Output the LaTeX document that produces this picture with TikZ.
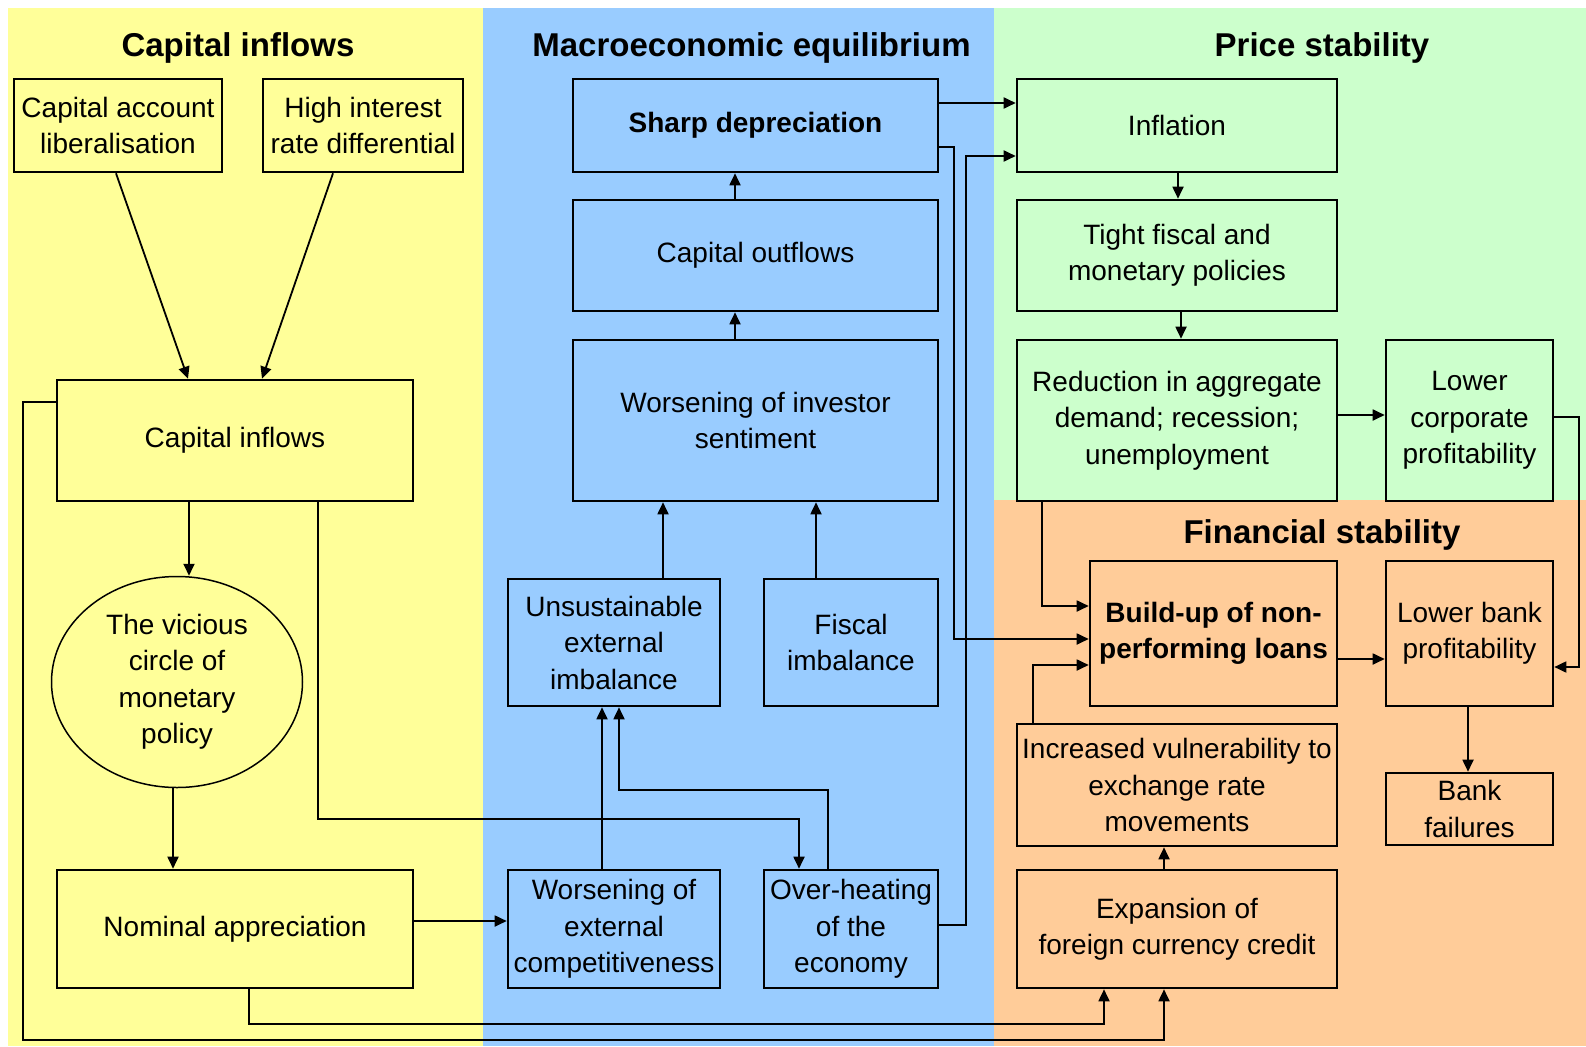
\documentclass[tikz,border=0pt]{standalone}
\usepackage{fontspec}
\setmainfont{Liberation Sans}
\usetikzlibrary{arrows.meta,shapes.geometric}
\definecolor{cyel}{HTML}{FFFF99}
\definecolor{cblu}{HTML}{99CCFF}
\definecolor{cgrn}{HTML}{CCFFCC}
\definecolor{corg}{HTML}{FFCC99}
\tikzset{
  box/.style={draw=black, line width=2.6pt, align=center, inner sep=1pt,
    font=\fontsize{28}{36.5}\selectfont},
  ttl/.style={font=\fontsize{33}{38}\selectfont\bfseries},
  arr/.style={line width=1.8pt, -{Triangle[length=12pt,width=11pt]}},
}
\begin{document}
\begin{tikzpicture}[x=1pt,y=-1pt]
\useasboundingbox (0,0) rectangle (1586,1046);
\fill[white] (0,0) rectangle (1586,1046);
\fill[cyel] (8,8) rectangle (483,1046);
\fill[cblu] (483,8) rectangle (994,1046);
\fill[cgrn] (994,8) rectangle (1586,500);
\fill[corg] (994,500) rectangle (1586,1046);

% titles
\node[ttl] (t1) at (238,47.5) {Capital inflows};
\node[ttl] (t2) at (751.5,47.5) {Macroeconomic equilibrium};
\node[ttl] (t3) at (1322,47.5) {Price stability};
\node[ttl] (t4) at (1322,535) {Financial stability};

% capital inflows column
\node[box, minimum width=208pt, minimum height=93pt] (cal) at (118,125.5) {Capital account\\liberalisation};
\node[box, minimum width=200pt, minimum height=93pt] (hir) at (363,125.5) {High interest\\rate differential};
\node[box, minimum width=356pt, minimum height=121pt] (cin) at (235,440.5) {Capital inflows};
\node[draw=black, ellipse, line width=1.5pt, align=center, inner sep=0pt,
  font=\fontsize{28}{36.5}\selectfont, minimum width=251pt, minimum height=211pt] (vic) at (177,682) {The vicious\\circle of\\monetary\\policy};
\node[box, minimum width=356pt, minimum height=118pt] (nom) at (235,929) {Nominal appreciation};

% macro column
\node[box, minimum width=365pt, minimum height=93pt] (sharp) at (755.5,125.5) {\bfseries Sharp depreciation};
\node[box, minimum width=365pt, minimum height=111pt] (cout) at (755.5,255.5) {Capital outflows};
\node[box, minimum width=365pt, minimum height=161pt] (inv) at (755.5,420.5) {Worsening of investor\\sentiment};
\node[box, minimum width=212pt, minimum height=127pt] (unsus) at (614,642.5) {Unsustainable\\external\\imbalance};
\node[box, minimum width=174pt, minimum height=127pt] (fisc) at (851,642.5) {Fiscal\\imbalance};
\node[box, minimum width=212pt, minimum height=118pt] (wec) at (614,929) {Worsening of\\external\\competitiveness};
\node[box, minimum width=174pt, minimum height=118pt] (ovh) at (851,929) {Over-heating\\of the\\economy};

% price stability
\node[box, minimum width=320pt, minimum height=93pt] (infl) at (1177,125.5) {Inflation};
\node[box, minimum width=320pt, minimum height=111pt] (tight) at (1177,255.5) {Tight fiscal and\\monetary policies};
\node[box, minimum width=320pt, minimum height=161pt] (red) at (1177,420.5) {Reduction in aggregate\\demand; recession;\\unemployment};
\node[box, minimum width=167pt, minimum height=161pt] (lcp) at (1469.5,420.5) {Lower\\corporate\\profitability};

% financial stability
\node[box, minimum width=247pt, minimum height=145pt] (npl) at (1213.5,633.5) {\bfseries Build-up of non-\\\bfseries performing loans};
\node[box, minimum width=167pt, minimum height=145pt] (lbp) at (1469.5,633.5) {Lower bank\\profitability};
\node[box, minimum width=320pt, minimum height=122pt] (ivul) at (1177,785) {Increased vulnerability to\\exchange rate\\movements};
\node[box, minimum width=167pt, minimum height=72pt] (bfail) at (1469.5,809) {Bank\\failures};
\node[box, minimum width=320pt, minimum height=118pt] (exp) at (1177,929) {Expansion of\\foreign currency credit};

% connectors
\draw[arr] (cal.south -| 116,0) -- (cin.north -| 188,0);
\draw[arr] (hir.south -| 333,0) -- (cin.north -| 262,0);
\draw[arr] (cin.south -| 189,0) -- (vic.north -| 189,0);
\draw[arr] (vic.south -| 173,0) -- (nom.north -| 173,0);
\draw[arr] (cin.south -| 318,0) -- (318,819) -- (799,819) -- (ovh.north -| 799,0);
\draw[arr] (cin.west |- 0,402) -- (23,402) -- (23,1040) -- (1164,1040) -- (exp.south -| 1164,0);
\draw[arr] (nom.south -| 249,0) -- (249,1024) -- (1104,1024) -- (exp.south -| 1104,0);
\draw[arr] (nom.east |- 0,921) -- (wec.west |- 0,921);
\draw[arr] (wec.north -| 602,0) -- (unsus.south -| 602,0);
\draw[arr] (ovh.north -| 828,0) -- (828,790) -- (619,790) -- (unsus.south -| 619,0);
\draw[arr] (unsus.north -| 663,0) -- (inv.south -| 663,0);
\draw[arr] (fisc.north -| 816,0) -- (inv.south -| 816,0);
\draw[arr] (inv.north -| 735,0) -- (cout.south -| 735,0);
\draw[arr] (cout.north -| 735,0) -- (sharp.south -| 735,0);
\draw[arr] (sharp.east |- 0,103) -- (infl.west |- 0,103);
\draw[arr] (sharp.east |- 0,147) -- (954,147) -- (954,639) -- (npl.west |- 0,639);
\draw[arr] (ovh.east |- 0,925) -- (966,925) -- (966,156) -- (infl.west |- 0,156);
\draw[arr] (infl.south -| 1178,0) -- (tight.north -| 1178,0);
\draw[arr] (tight.south -| 1181,0) -- (red.north -| 1181,0);
\draw[arr] (red.east |- 0,415) -- (lcp.west |- 0,415);
\draw[arr] (lcp.east |- 0,417) -- (1579,417) -- (1579,667) -- (lbp.east |- 0,667);
\draw[arr] (red.south -| 1042,0) -- (1042,606) -- (npl.west |- 0,606);
\draw[arr] (ivul.north -| 1033,0) -- (1033,665) -- (npl.west |- 0,665);
\draw[arr] (npl.east |- 0,659) -- (lbp.west |- 0,659);
\draw[arr] (lbp.south -| 1468,0) -- (bfail.north -| 1468,0);
\draw[arr] (exp.north -| 1164,0) -- (ivul.south -| 1164,0);
\end{tikzpicture}
\end{document}
